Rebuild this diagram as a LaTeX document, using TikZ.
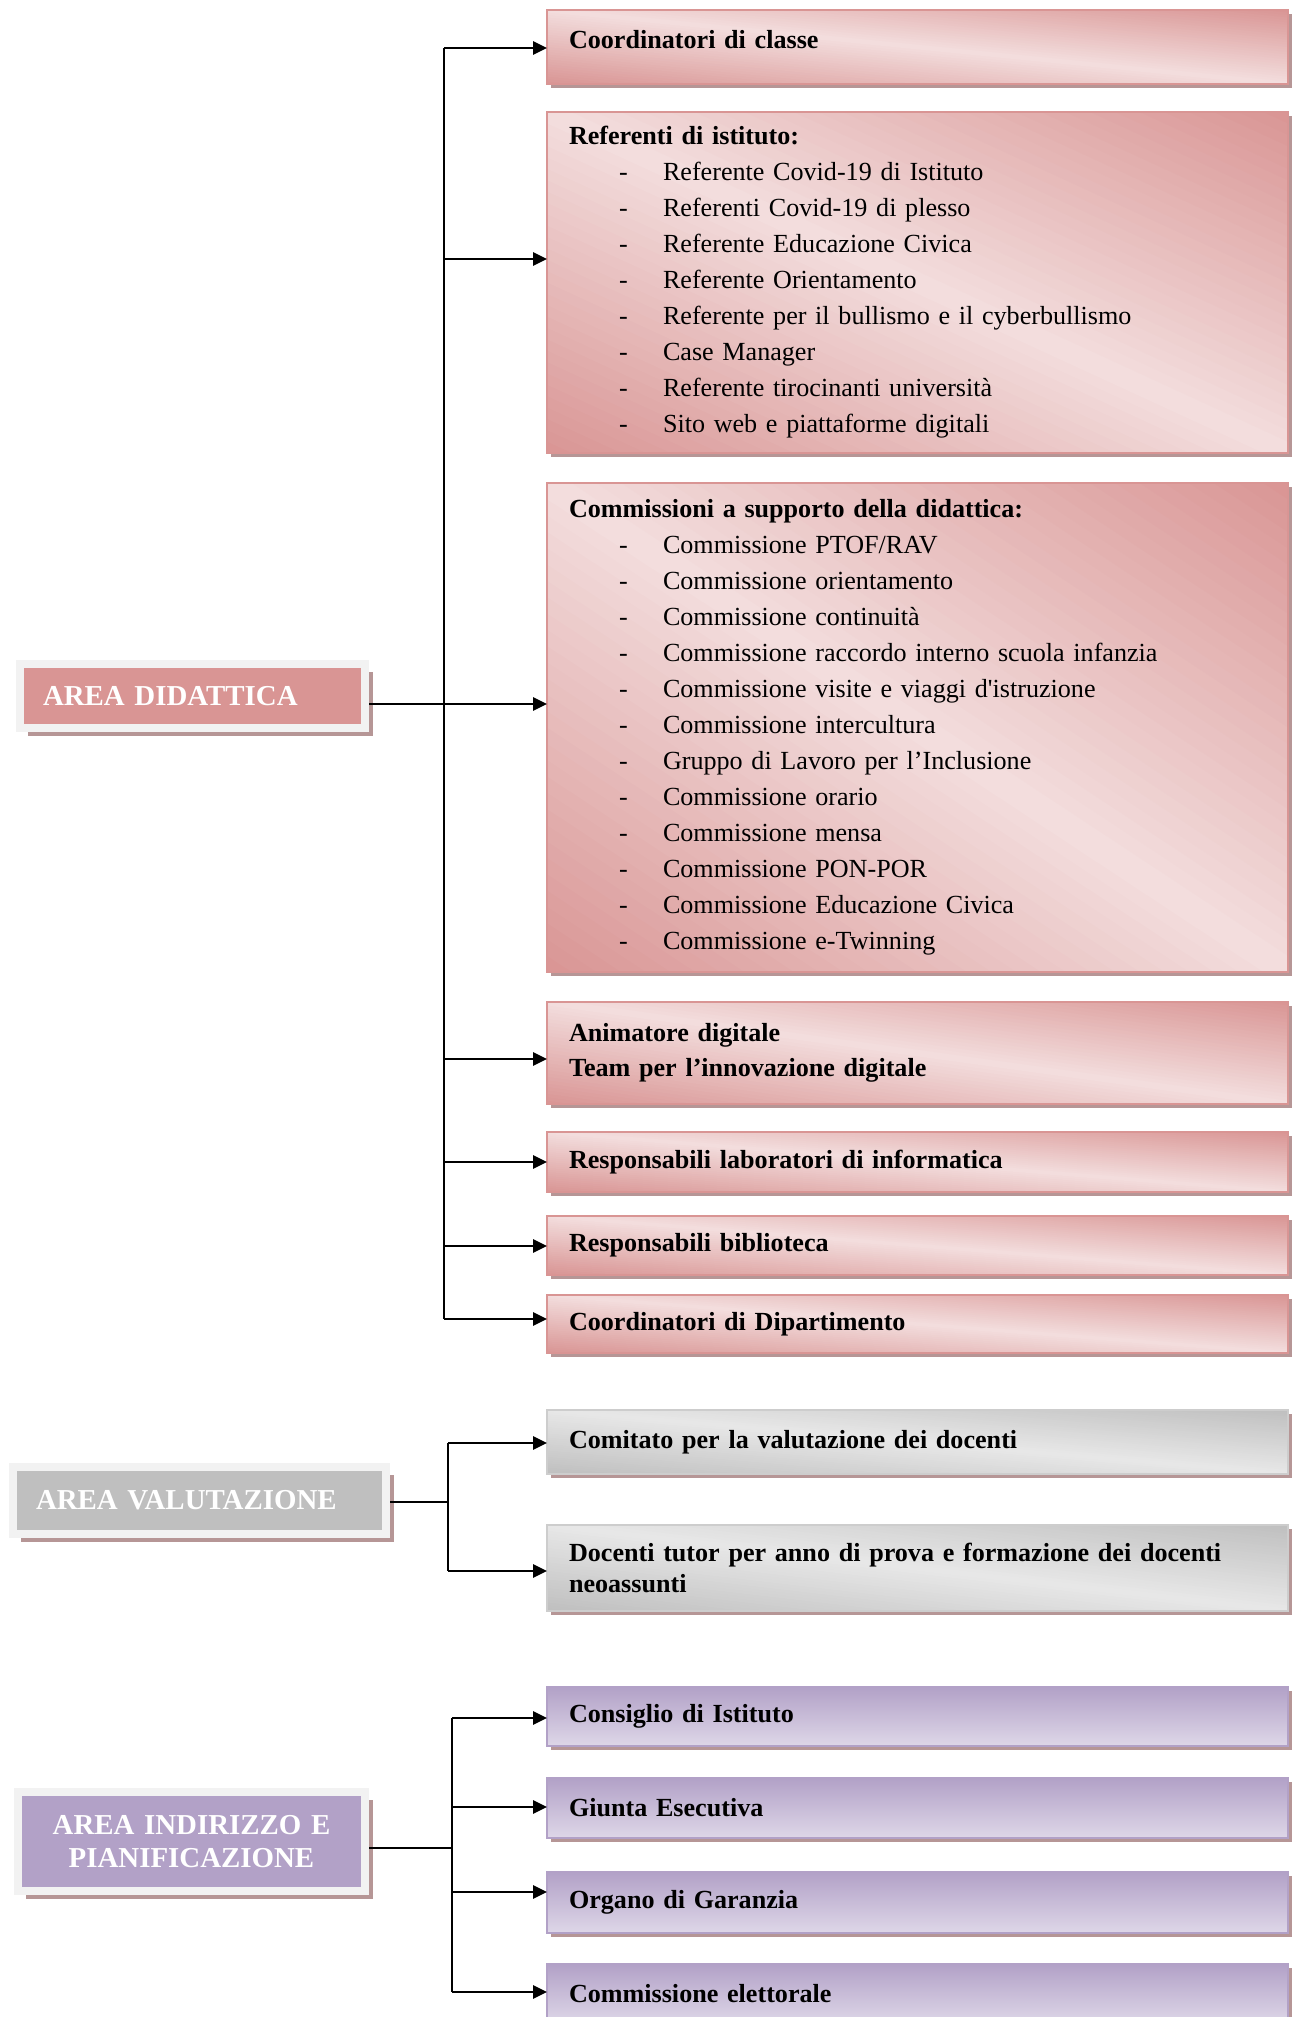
\documentclass[tikz,border=0pt]{standalone}
\usepackage{fontspec}
\setmainfont{Liberation Serif}
\usetikzlibrary{arrows.meta}

\newlength{\du}
\setlength{\du}{0.45pt}

\definecolor{rosascuro}{RGB}{217,149,148}
\definecolor{rosachiaro}{RGB}{243,222,222}
\definecolor{grigioscuro}{RGB}{191,191,191}
\definecolor{grigiochiaro}{RGB}{232,232,232}
\definecolor{grigiobordo}{RGB}{205,205,205}
\definecolor{violascuro}{RGB}{178,161,199}
\definecolor{violachiaro}{RGB}{222,215,232}
\definecolor{cornice}{RGB}{242,242,242}
\definecolor{ombra}{RGB}{182,150,150}

\newcommand{\voce}[1]{\\\hspace*{50\du}\makebox[44\du][l]{-}#1}

% ombra e gradiente diagonale (angolo-angolo) sotto una casella: x y larghezza altezza scuro chiaro
\newcommand{\sfondo}[6]{%
  \fill[ombra] (#1+4,#2+4) rectangle ++(#3,#4);
  \begin{scope}
    \clip (#1,#2) rectangle ++(#3,#4);
    \begin{scope}[shift={(#1+#3/2,#2+#4/2)},x=#3\du,y=#4\du]
      \foreach \i in {0,...,59}{
        \pgfmathsetmacro{\ca}{-1+\i/30}
        \pgfmathsetmacro{\cb}{\ca+2/30}
        \pgfmathsetmacro{\tinta}{100*abs(\ca+1/60)}
        \fill[#5!\tinta!#6] (\ca+1,-1) -- (\ca-1,1) -- (\cb-1,1) -- (\cb+1,-1) -- cycle;
      }
    \end{scope}
  \end{scope}}

\tikzset{
  ombreggiato/.style={preaction={fill=ombra,transform canvas={xshift=4\du,yshift=-4\du}}},
  casella/.style={rectangle,anchor=north west,text width=697\du,inner xsep=22\du,inner ysep=0pt,
    outer sep=0pt,align=left,line width=1.2\du,font=\fontsize{11.75pt}{16.2pt}\selectfont},
  casellarosa/.style={casella,draw=rosascuro},
  casellagrigia/.style={casella,draw=grigiobordo},
  casellaviola/.style={casella,ombreggiato,draw=violascuro,top color=violascuro,bottom color=violachiaro},
  grassetto/.style={font=\fontsize{11.75pt}{15.75pt}\selectfont\bfseries},
  area/.style={rectangle,anchor=north west,draw=cornice,line width=8\du,inner xsep=23\du,
    inner ysep=0pt,text=white,font=\fontsize{13pt}{14.6pt}\selectfont\bfseries,
    preaction={fill=ombra,transform canvas={xshift=8\du,yshift=-8\du}}},
  linea/.style={line width=2.6\du},
  freccia/.style={linea,-{Triangle[length=6.3pt,width=5.9pt]}}
}

\begin{document}
\begin{tikzpicture}[x=1\du,y=-1\du]
\useasboundingbox (0,0) rectangle (1292,2017);

% area didattica
\node[area,fill=rosascuro,minimum width=345\du,minimum height=64\du,text width=299\du,align=left]
  (didattica) at (16,660) {AREA DIDATTICA};

\sfondo{547}{10}{741}{74}{rosascuro}{rosachiaro}
\node[casellarosa,grassetto,minimum height=74\du,text depth=16\du] (coordinatori) at (547,10)
  {Coordinatori di classe};
\sfondo{547}{112}{741}{341}{rosascuro}{rosachiaro}
\node[casellarosa,minimum height=341\du] (referenti) at (547,112)
  {\textbf{Referenti di istituto:}%
   \voce{Referente Covid-19 di Istituto}%
   \voce{Referenti Covid-19 di plesso}%
   \voce{Referente Educazione Civica}%
   \voce{Referente Orientamento}%
   \voce{Referente per il bullismo e il cyberbullismo}%
   \voce{Case Manager}%
   \voce{Referente tirocinanti università}%
   \voce{Sito web e piattaforme digitali}};
\sfondo{547}{483}{741}{489}{rosascuro}{rosachiaro}
\node[casellarosa,minimum height=489\du] (commissioni) at (547,483)
  {\textbf{Commissioni a supporto della didattica:}%
   \voce{Commissione PTOF/RAV}%
   \voce{Commissione orientamento}%
   \voce{Commissione continuità}%
   \voce{Commissione raccordo interno scuola infanzia}%
   \voce{Commissione visite e viaggi d\textquotesingle istruzione}%
   \voce{Commissione intercultura}%
   \voce{Gruppo di Lavoro per l’Inclusione}%
   \voce{Commissione orario}%
   \voce{Commissione mensa}%
   \voce{Commissione PON-POR}%
   \voce{Commissione Educazione Civica}%
   \voce{Commissione e-Twinning}};
\sfondo{547}{1002}{741}{102}{rosascuro}{rosachiaro}
\node[casellarosa,grassetto,minimum height=102\du] (animatore) at (547,1002)
  {Animatore digitale\\Team per l’innovazione digitale};
\sfondo{547}{1132}{741}{60}{rosascuro}{rosachiaro}
\node[casellarosa,grassetto,minimum height=60\du] (laboratori) at (547,1132)
  {Responsabili laboratori di informatica};
\sfondo{547}{1216}{741}{59}{rosascuro}{rosachiaro}
\node[casellarosa,grassetto,minimum height=59\du] (biblioteca) at (547,1216)
  {Responsabili biblioteca};
\sfondo{547}{1295}{741}{58}{rosascuro}{rosachiaro}
\node[casellarosa,grassetto,minimum height=58\du] (dipartimento) at (547,1295)
  {Coordinatori di Dipartimento};

\coordinate (d1) at (444,48);
\coordinate (d2) at (444,259);
\coordinate (d3) at (444,704);
\coordinate (d4) at (444,1059);
\coordinate (d5) at (444,1162);
\coordinate (d6) at (444,1246);
\coordinate (d7) at (444,1319);

\draw[linea] (d1) -- (d7);
\draw[freccia] (d1) -- (d1 -| coordinatori.west);
\draw[freccia] (d2) -- (d2 -| referenti.west);
\draw[freccia] (didattica.east |- d3) -- (d3 -| commissioni.west);
\draw[freccia] (d4) -- (d4 -| animatore.west);
\draw[freccia] (d5) -- (d5 -| laboratori.west);
\draw[freccia] (d6) -- (d6 -| biblioteca.west);
\draw[freccia] (d7) -- (d7 -| dipartimento.west);

% area valutazione
\node[area,fill=grigioscuro,minimum width=373\du,minimum height=67\du,text width=327\du,align=left]
  (valutazione) at (9,1463) {AREA VALUTAZIONE};

\sfondo{547}{1410}{741}{64}{grigioscuro}{grigiochiaro}
\node[casellagrigia,grassetto,minimum height=64\du] (comitato) at (547,1410)
  {Comitato per la valutazione dei docenti};
\sfondo{547}{1525}{741}{86}{grigioscuro}{grigiochiaro}
\node[casellagrigia,font=\fontsize{11.75pt}{14pt}\selectfont\bfseries,minimum height=86\du] (tutor) at (547,1525)
  {Docenti tutor per anno di prova e formazione dei docenti\\neoassunti};

\coordinate (v0) at (448,1502);
\coordinate (v1) at (448,1443);
\coordinate (v2) at (448,1571);

\draw[linea] (valutazione.east |- v0) -- (v0);
\draw[linea] (v1) -- (v2);
\draw[freccia] (v1) -- (v1 -| comitato.west);
\draw[freccia] (v2) -- (v2 -| tutor.west);

% area indirizzo e pianificazione
\node[area,fill=violascuro,minimum width=347\du,minimum height=99\du,text width=301\du,align=center]
  (indirizzo) at (14,1788) {AREA INDIRIZZO E\\PIANIFICAZIONE};

\node[casellaviola,grassetto,minimum height=59\du] (consiglio) at (547,1687)
  {Consiglio di Istituto};
\node[casellaviola,grassetto,minimum height=60\du] (giunta) at (547,1778)
  {Giunta Esecutiva};
\node[casellaviola,grassetto,minimum height=61\du] (garanzia) at (547,1872)
  {Organo di Garanzia};
\node[casellaviola,grassetto,minimum height=59\du] (elettorale) at (547,1964)
  {Commissione elettorale};

\coordinate (p0) at (452,1848);
\coordinate (p1) at (452,1718);
\coordinate (p2) at (452,1807);
\coordinate (p3) at (452,1892);
\coordinate (p4) at (452,1992);

\draw[linea] (indirizzo.east |- p0) -- (p0);
\draw[linea] (p1) -- (p4);
\draw[freccia] (p1) -- (p1 -| consiglio.west);
\draw[freccia] (p2) -- (p2 -| giunta.west);
\draw[freccia] (p3) -- (p3 -| garanzia.west);
\draw[freccia] (p4) -- (p4 -| elettorale.west);
\end{tikzpicture}
\end{document}
